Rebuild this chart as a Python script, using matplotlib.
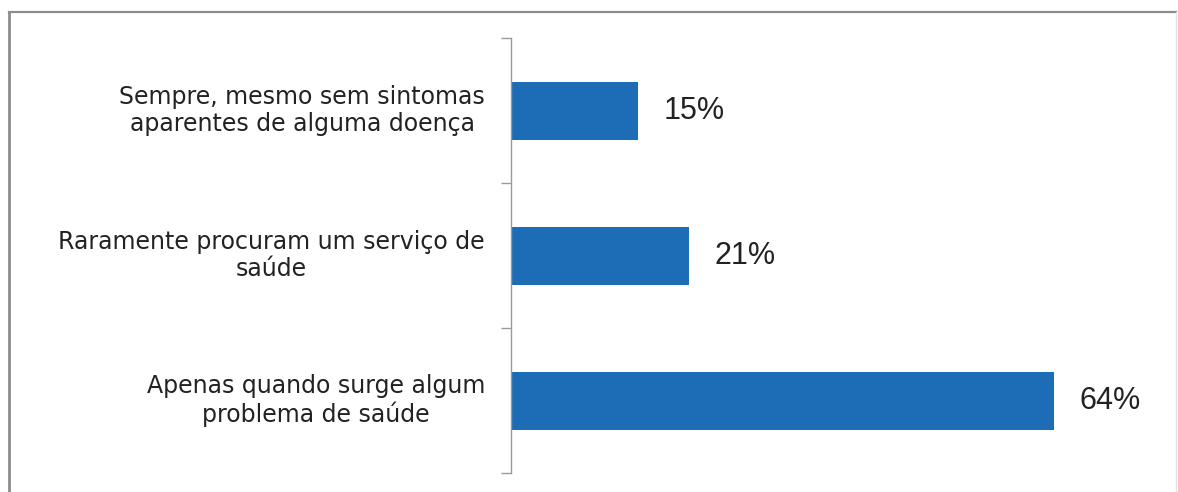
import matplotlib
matplotlib.use("Agg")
import matplotlib.pyplot as plt
from matplotlib.lines import Line2D

plt.rcParams['font.family'] = ['Liberation Sans', 'DejaVu Sans']

# respostas e percentuais
categorias = ["Sempre, mesmo sem sintomas\naparentes de alguma doença",
              "Raramente procuram um serviço de\nsaúde",
              "Apenas quando surge algum\nproblema de saúde"]
percentuais = [15, 21, 64]
rotulos = ["15%", "21%", "64%"]

cor_barra = "#1C6DB6"
cor_texto = "#222222"
cor_eixo = "#9a9a9a"

fig = plt.figure(figsize=(11.78, 4.92), dpi=100)
ax = fig.add_axes([511 / 1178, 19 / 492, 639 / 1178, 435 / 492])

pos = list(range(len(categorias)))
ax.barh(pos, percentuais, height=0.4, color=cor_barra, align="center")
ax.set_xlim(0, 75.3)
ax.set_ylim(2.5, -0.5)

# percentuais ao lado das barras
for y, v, r in zip(pos, percentuais, rotulos):
    ax.annotate(r, xy=(v, y), xytext=(25, 0), textcoords="offset pixels",
                ha="left", va="center", fontsize=22, color=cor_texto)

# nomes das categorias à esquerda do eixo, linhas centralizadas
for y, nome in zip(pos, categorias):
    ax.annotate(nome, xy=(0, y), xytext=(-26, 0), textcoords="offset pixels",
                ha="right", va="center", multialignment="center",
                fontsize=17, color=cor_texto, linespacing=1.2,
                family="DejaVu Sans")

for s in ["top", "right", "bottom"]:
    ax.spines[s].set_visible(False)
ax.spines["left"].set_color(cor_eixo)
ax.spines["left"].set_linewidth(1.0)
ax.set_xticks([])
ax.set_yticks([-0.5, 0.5, 1.5, 2.5])
ax.set_yticklabels([])
ax.tick_params(axis="y", length=7, width=1.0, color=cor_eixo, direction="out")

# moldura da figura
x0, x1 = 9 / 1178, 1176 / 1178
y_top = 1 - 12 / 492
fig.add_artist(Line2D([x0, x1], [y_top, y_top], transform=fig.transFigure,
                      color="#8c8c8c", lw=1.6))
fig.add_artist(Line2D([x0, x0], [0, y_top], transform=fig.transFigure,
                      color="#8c8c8c", lw=2.0))
fig.add_artist(Line2D([x1, x1], [0, y_top], transform=fig.transFigure,
                      color="#e4e4e4", lw=1.0))

fig.savefig("out.png", dpi=100)
